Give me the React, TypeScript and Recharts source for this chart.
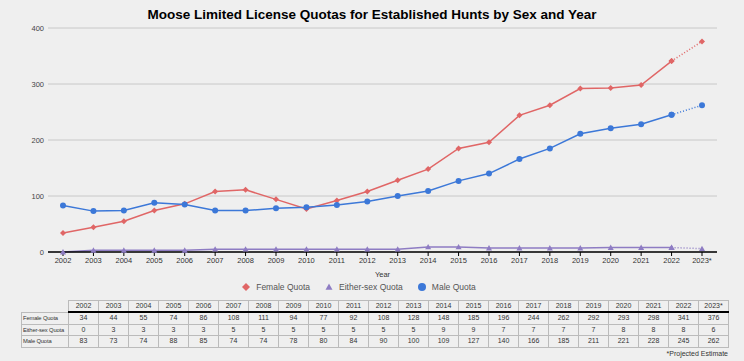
import React from 'react';
import { LineChart, Line, XAxis, YAxis, CartesianGrid, Legend } from 'recharts';

const years = [
  '2002', '2003', '2004', '2005', '2006', '2007', '2008', '2009', '2010', '2011', '2012',
  '2013', '2014', '2015', '2016', '2017', '2018', '2019', '2020', '2021', '2022', '2023*',
];
const femaleQuota = [34, 44, 55, 74, 86, 108, 111, 94, 77, 92, 108, 128, 148, 185, 196, 244, 262, 292, 293, 298, 341, 376];
const eitherSexQuota = [0, 3, 3, 3, 3, 5, 5, 5, 5, 5, 5, 5, 9, 9, 7, 7, 7, 7, 8, 8, 8, 6];
const maleQuota = [83, 73, 74, 88, 85, 74, 74, 78, 80, 84, 90, 100, 109, 127, 140, 166, 185, 211, 221, 228, 245, 262];
const yTicks = [0, 100, 200, 300, 400];

const FEMALE = '#e06666';
const EITHER = '#8e7cc3';
const MALE = '#3c78d8';
const FONT = '"Liberation Sans", Arial, sans-serif';

// last year is a projection -> drawn dotted, everything before it solid
const last = years.length - 1;
const split = (arr: number[], i: number) => ({
  solid: i < last ? arr[i] : null,
  proj: i >= last - 1 ? arr[i] : null,
});

const data = years.map((year, i) => {
  const f = split(femaleQuota, i);
  const e = split(eitherSexQuota, i);
  const m = split(maleQuota, i);
  return {
    year,
    female: f.solid,
    femaleProj: f.proj,
    either: e.solid,
    eitherProj: e.proj,
    male: m.solid,
    maleProj: m.proj,
  };
});

const Diamond = (props: any) => {
  const { cx, cy, fill, r = 4 } = props;
  if (cx == null || cy == null || isNaN(cy)) return <g />;
  return <polygon points={`${cx},${cy - r} ${cx + r},${cy} ${cx},${cy + r} ${cx - r},${cy}`} fill={fill} />;
};

const Triangle = (props: any) => {
  const { cx, cy, fill, r = 3.5 } = props;
  if (cx == null || cy == null || isNaN(cy)) return <g />;
  return <polygon points={`${cx},${cy - r} ${cx + r},${cy + r * 0.8} ${cx - r},${cy + r * 0.8}`} fill={fill} />;
};

const Circle = (props: any) => {
  const { cx, cy, fill, r = 4.5 } = props;
  if (cx == null || cy == null || isNaN(cy)) return <g />;
  return <circle cx={cx} cy={cy} r={r} fill={fill} />;
};

const legendItems = [
  { name: 'Female Quota', color: FEMALE, Icon: Diamond },
  { name: 'Either-sex Quota', color: EITHER, Icon: Triangle },
  { name: 'Male Quota', color: MALE, Icon: Circle },
];

const LegendContent = () => (
  <div style={{ height: 18, display: 'flex', justifyContent: 'center', alignItems: 'center', gap: 14 }}>
    {legendItems.map(({ name, color, Icon }) => (
      <div key={name} style={{ display: 'flex', alignItems: 'center', gap: 5 }}>
        <svg width={10} height={10}>
          <Icon cx={5} cy={5} fill={color} r={name === 'Either-sex Quota' ? 3.5 : 4} />
        </svg>
        <span style={{ fontSize: 8.5, color: '#555', fontFamily: FONT }}>{name}</span>
      </div>
    ))}
  </div>
);

const rows = [
  { label: 'Female Quota', values: femaleQuota },
  { label: 'Either-sex Quota', values: eitherSexQuota },
  { label: 'Male Quota', values: maleQuota },
];

const cell: React.CSSProperties = {
  border: '1px solid #bbb',
  padding: 0,
  height: 10.5,
  textAlign: 'center',
  fontSize: 7,
  color: '#333',
  lineHeight: '10px',
  overflow: 'hidden',
};

const makeDot = (Shape: any, fill: string) => (p: any) => <Shape key={p.key ?? `${p.index}`} {...p} fill={fill} />;

const App = () => {
  return (
    <div
      style={{
        position: 'absolute',
        left: 0,
        top: 0,
        width: 744,
        height: 361,
        background: '#efefef',
        fontFamily: FONT,
        overflow: 'hidden',
      }}
    >
      <div
        style={{
          position: 'absolute',
          top: 7,
          left: 0,
          width: 744,
          textAlign: 'center',
          fontSize: 13.5,
          fontWeight: 'bold',
          color: '#000',
        }}
      >
        Moose Limited License Quotas for Established Hunts by Sex and Year
      </div>
      <LineChart
        width={744}
        height={296}
        data={data}
        margin={{ top: 28, right: 27, left: 0, bottom: 0 }}
        style={{ fontFamily: FONT }}
      >
        <CartesianGrid vertical={false} stroke="#c8c8c8" />
        <XAxis
          dataKey="year"
          height={26}
          interval={0}
          padding={{ left: 15, right: 15 }}
          tick={{ fontSize: 7.5, fill: '#333' }}
          tickSize={4}
          tickMargin={2}
          tickLine={{ stroke: '#000' }}
          axisLine={{ stroke: '#000', strokeWidth: 1.5 }}
          label={{ value: 'Year', position: 'insideBottom', offset: 1, fontSize: 7.5, fill: '#333' }}
        />
        <YAxis
          width={48}
          domain={[0, 400]}
          ticks={yTicks}
          axisLine={false}
          tickLine={false}
          tickSize={0}
          tickMargin={4}
          tick={{ fontSize: 7.5, fill: '#444' }}
        />
        <Legend verticalAlign="bottom" content={<LegendContent />} />
        <Line dataKey="either" stroke={EITHER} strokeWidth={1.5} dot={makeDot(Triangle, EITHER)} activeDot={false} isAnimationActive={false} legendType="none" />
        <Line dataKey="eitherProj" stroke={EITHER} strokeWidth={1.5} strokeDasharray="1 2" dot={makeDot(Triangle, EITHER)} activeDot={false} isAnimationActive={false} legendType="none" />
        <Line dataKey="female" stroke={FEMALE} strokeWidth={1.5} dot={makeDot(Diamond, FEMALE)} activeDot={false} isAnimationActive={false} legendType="none" />
        <Line dataKey="femaleProj" stroke={FEMALE} strokeWidth={1.5} strokeDasharray="1 2" dot={makeDot(Diamond, FEMALE)} activeDot={false} isAnimationActive={false} legendType="none" />
        <Line dataKey="male" stroke={MALE} strokeWidth={1.5} dot={makeDot(Circle, MALE)} activeDot={false} isAnimationActive={false} legendType="none" />
        <Line dataKey="maleProj" stroke={MALE} strokeWidth={1.5} strokeDasharray="1 2" dot={makeDot(Circle, MALE)} activeDot={false} isAnimationActive={false} legendType="none" />
      </LineChart>
      <table
        style={{
          position: 'absolute',
          left: 21,
          top: 300,
          width: 707,
          borderCollapse: 'collapse',
          tableLayout: 'fixed',
          fontFamily: FONT,
        }}
      >
        <colgroup>
          <col style={{ width: 47 }} />
          {years.map((y) => (
            <col key={y} style={{ width: 30 }} />
          ))}
        </colgroup>
        <thead>
          <tr>
            <th style={{ border: 'none', padding: 0 }} />
            {years.map((y) => (
              <th key={y} style={{ ...cell, fontWeight: 'normal', borderBottom: '2.5px solid #000', height: 10 }}>
                {y}
              </th>
            ))}
          </tr>
        </thead>
        <tbody>
          {rows.map((r) => (
            <tr key={r.label}>
              <td
                style={{
                  ...cell,
                  textAlign: 'left',
                  paddingLeft: 1,
                  fontSize: 5.8,
                  letterSpacing: -0.15,
                  whiteSpace: 'nowrap',
                  overflow: 'visible',
                }}
              >
                {r.label}
              </td>
              {r.values.map((v, i) => (
                <td key={i} style={cell}>
                  {v}
                </td>
              ))}
            </tr>
          ))}
        </tbody>
      </table>
      <div style={{ position: 'absolute', right: 16, top: 350, fontSize: 7, color: '#333' }}>*Projected Estimate</div>
    </div>
  );
};

export default App;
